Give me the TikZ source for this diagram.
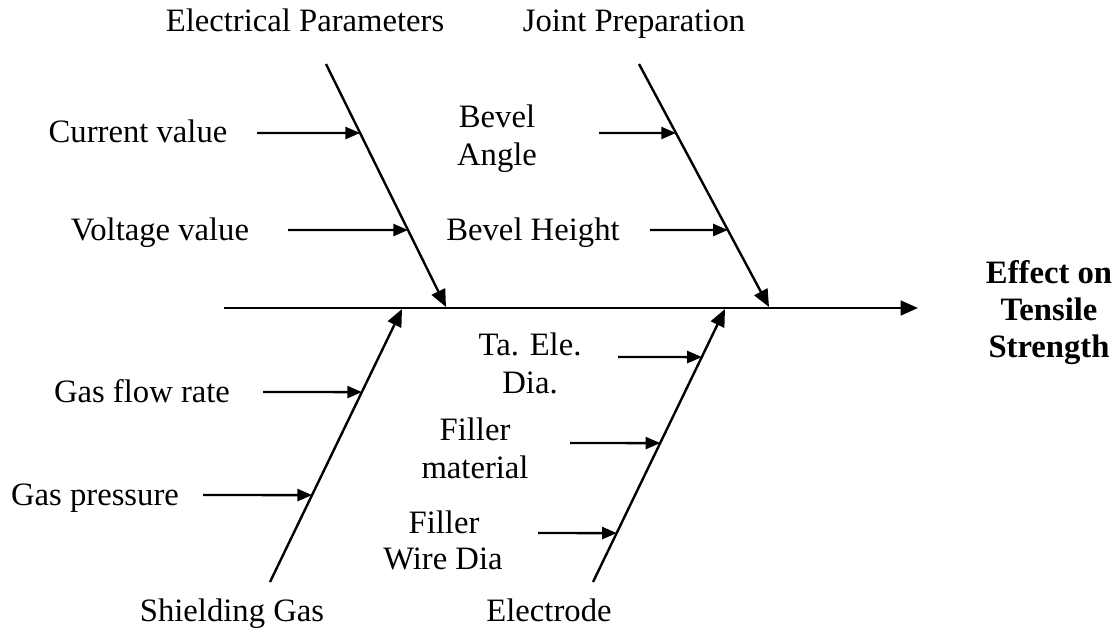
\documentclass[tikz,border=0pt]{standalone}
\usepackage{fontspec}
\setmainfont{Liberation Serif}
\usetikzlibrary{arrows.meta}
\begin{document}
\begin{tikzpicture}[x=0.75pt,y=-0.75pt,
  bone/.style={line width=1.8pt,-{Triangle[length=13pt,width=11pt]}},
  cause/.style={line width=1.8pt,-{Triangle[length=11pt,width=9pt]}},
  lbl/.style={font=\fontsize{24.5}{28.5}\selectfont,inner sep=0pt,anchor=base},
  eff/.style={font=\fontsize{24.5}{28}\selectfont\bfseries,inner sep=0pt,anchor=base}]
\useasboundingbox (0,0) rectangle (1120,637);
% spine
\coordinate (s0) at (224,308);
\coordinate (s1) at (918,308);
\draw[bone] (s0) -- (s1);
% bones
\coordinate (e1) at (326,64);  \coordinate (e2) at (446,307);
\coordinate (j1) at (639,64);  \coordinate (j2) at (769,307);
\coordinate (g1) at (270,582); \coordinate (g2) at (402,309);
\coordinate (d1) at (593,582); \coordinate (d2) at (725,309);
\draw[bone] (e1) -- (e2);
\draw[bone] (j1) -- (j2);
\draw[bone] (g1) -- (g2);
\draw[bone] (d1) -- (d2);
% category labels
\node[lbl] (tE) at (305,31) {Electrical Parameters};
\node[lbl] (tJ) at (634,31) {Joint Preparation};
\node[lbl] (tG) at (232,621) {Shielding Gas};
\node[lbl] (tD) at (549,621) {Electrode};
\node[eff] (eff1) at (1049,283) {Effect on};
\node[eff] (eff2) at (1049,320) {Tensile};
\node[eff] (eff3) at (1049,357) {Strength};
% cause labels
\node[lbl] (cv) at (138,142) {Current value};
\node[lbl] (vv) at (160,240) {Voltage value};
\node[lbl] (ba1) at (497,127) {Bevel};
\node[lbl] (ba2) at (497,165) {Angle};
\node[lbl] (bh) at (533,240) {Bevel Height};
\node[lbl] (gf) at (142,402) {Gas flow rate};
\node[lbl] (gp) at (95,505) {Gas pressure};
\node[lbl] (te1) at (530,355) {Ta. Ele.};
\node[lbl] (te2) at (530,393) {Dia.};
\node[lbl] (fm1) at (475,440) {Filler};
\node[lbl] (fm2) at (475,478) {material};
\node[lbl] (fw1) at (444,533) {Filler};
\node[lbl] (fw2) at (443,569) {Wire Dia};
% cause arrows
\coordinate (cvA) at (257,133);
\coordinate (cvB) at (intersection of e1--e2 and {0,133}--{1,133});
\coordinate (vvA) at (288,230);
\coordinate (vvB) at (intersection of e1--e2 and {0,230}--{1,230});
\coordinate (baA) at (599,133);
\coordinate (baB) at (intersection of j1--j2 and {0,133}--{1,133});
\coordinate (bhA) at (650,230);
\coordinate (bhB) at (intersection of j1--j2 and {0,230}--{1,230});
\coordinate (gfA) at (263,392);
\coordinate (gfB) at (intersection of g1--g2 and {0,392}--{1,392});
\coordinate (gpA) at (203,495);
\coordinate (gpB) at (intersection of g1--g2 and {0,495}--{1,495});
\coordinate (teA) at (618,357);
\coordinate (teB) at (intersection of d1--d2 and {0,357}--{1,357});
\coordinate (fmA) at (570,443);
\coordinate (fmB) at (intersection of d1--d2 and {0,443}--{1,443});
\coordinate (fwA) at (538,533);
\coordinate (fwB) at (intersection of d1--d2 and {0,533}--{1,533});
\foreach \c in {cv,vv,ba,bh,gf,gp,te,fm,fw}
  \draw[cause] (\c A) -- (\c B);
\end{tikzpicture}
\end{document}
